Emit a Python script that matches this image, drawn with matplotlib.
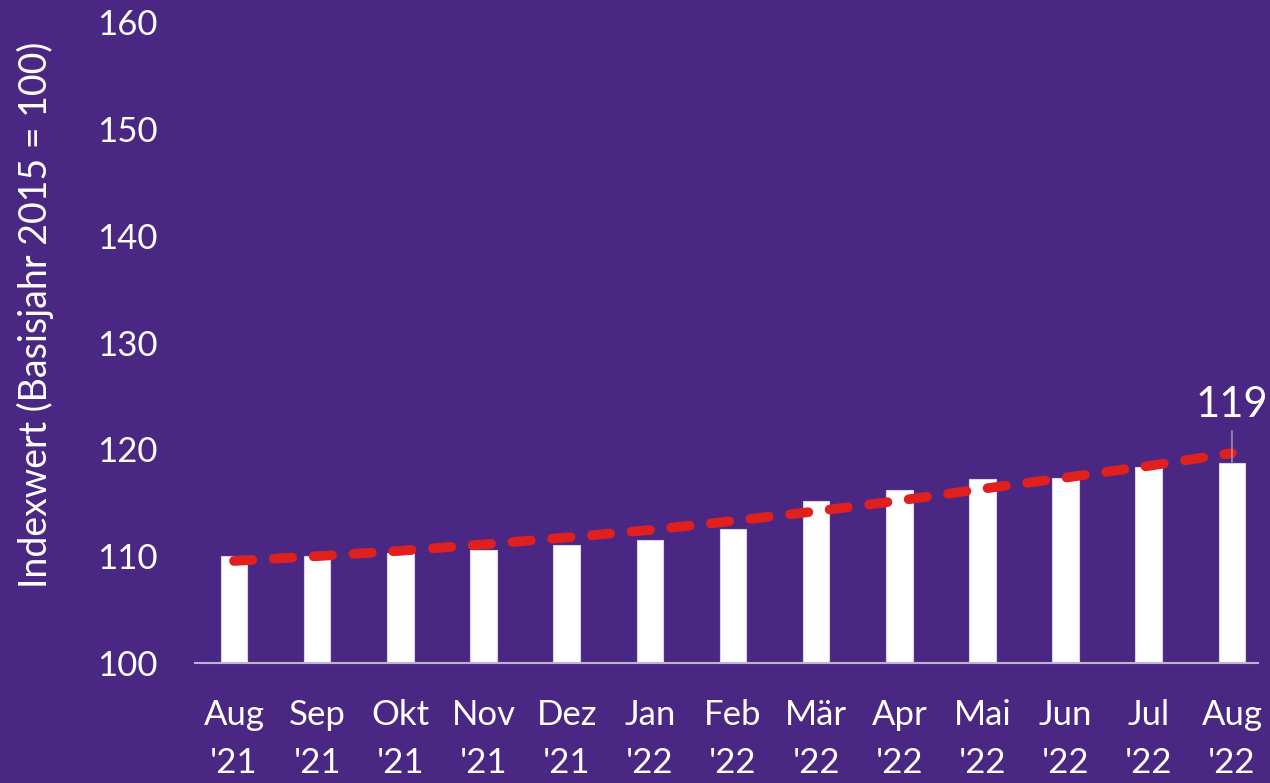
import matplotlib
matplotlib.use("Agg")
import matplotlib.pyplot as plt
import numpy as np

months = ["Aug\n'21", "Sep\n'21", "Okt\n'21", "Nov\n'21", "Dez\n'21", "Jan\n'22",
          "Feb\n'22", "Mär\n'22", "Apr\n'22", "Mai\n'22", "Jun\n'22", "Jul\n'22", "Aug\n'22"]
index_values = [110.0, 110.0, 110.3, 110.55, 111.05, 111.55, 112.5,
                115.2, 116.2, 117.2, 117.3, 118.3, 118.7]
trend_values = [109.55, 110.0, 110.5, 111.1, 111.75, 112.45, 113.3,
                114.2, 115.2, 116.3, 117.35, 118.45, 119.65]
y_ticks = [100, 110, 120, 130, 140, 150, 160]
last_label = "119"
y_label = "Indexwert (Basisjahr 2015 = 100)"

BG = "#4a2782"
FONT = ["Lato", "DejaVu Sans"]
plt.rcParams["font.family"] = FONT

fig = plt.figure(figsize=(12.7, 7.83), dpi=100, facecolor=BG)
ax = fig.add_axes([195/1270, 1-663/783, (1258-195)/1270, (663-22)/783])
ax.set_facecolor(BG)

x = np.arange(len(months))
ax.bar(x, [v - 100 for v in index_values], bottom=100, width=0.32,
       color="white", edgecolor="#d9d2e8", linewidth=0.8, zorder=2)

line, = ax.plot(x, trend_values, color="#e01f1f", linewidth=7,
                linestyle=(0, (1.9, 2.2)), dash_capstyle="round", zorder=3)

ax.set_xlim(-0.469, 12.313)
ax.set_ylim(100, 160)
ax.set_yticks(y_ticks)
ax.set_yticklabels([str(t) for t in y_ticks])
ax.set_xticks(x)
ax.set_xticklabels(months, linespacing=1.6)

ax.tick_params(axis="y", length=0, pad=27, labelsize=25, labelcolor="white")
ax.tick_params(axis="x", length=0, pad=26, labelsize=25, labelcolor="white")

for s in ["top", "right", "left"]:
    ax.spines[s].set_visible(False)
ax.spines["bottom"].set_color("#bdb4d2")
ax.spines["bottom"].set_linewidth(1.5)

# leader line and label for last bar
ax.annotate(last_label, xy=(x[-1], index_values[-1]), xytext=(x[-1], 122.4),
            ha="center", va="bottom", color="white", fontsize=30,
            arrowprops=dict(arrowstyle="-", color="#a8a0b8", lw=1.0,
                            shrinkA=3, shrinkB=0),
            zorder=4)

fig.text(35/1270, 1-315/783, y_label, rotation=90, ha="center", va="center",
         color="white", fontsize=27)

fig.savefig("out.png", dpi=100, facecolor=BG)
